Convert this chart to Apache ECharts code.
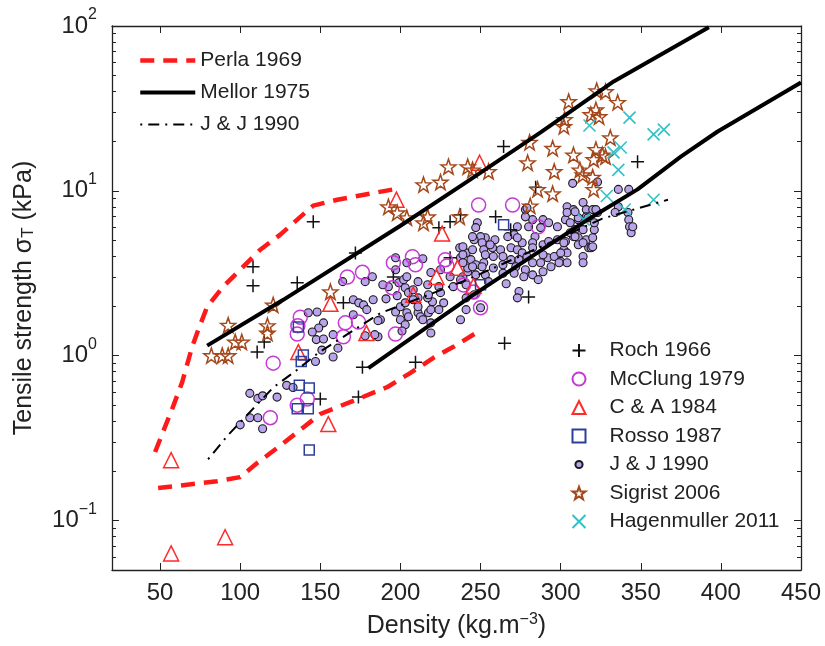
<!DOCTYPE html>
<html>
<head>
<meta charset="utf-8">
<script src="https://cdn.jsdelivr.net/npm/echarts@6/dist/echarts.min.js"></script>
<style>
  html, body { margin: 0; padding: 0; background: #fff; }
  #chart { width: 825px; height: 646px; }
</style>
</head>
<body>
<div id="chart"></div>
<script>
// ticks
var xTicks = [50, 100, 150, 200, 250, 300, 350, 400, 450];
var yMajor = [0.1, 1, 10, 100];
var yMinor = [0.06, 0.07, 0.08, 0.09, 0.2, 0.3, 0.4, 0.5, 0.6, 0.7, 0.8, 0.9,
  2, 3, 4, 5, 6, 7, 8, 9, 20, 30, 40, 50, 60, 70, 80, 90];

// model curves [density, strength]
var perlaUpper = [[46.9, 0.26], [53.1, 0.37], [58.1, 0.49], [63.8, 0.69], [70, 1.13], [73.8, 1.43],
  [79.4, 1.98], [89.4, 2.62], [112.5, 4.39], [125, 5.42], [135.6, 6.68], [145.6, 8.13], [160.6, 8.83], [195.6, 10.2]];
var perlaLower = [[48.8, 0.157], [85.6, 0.173], [100, 0.183], [110.6, 0.223], [123.1, 0.275], [137.5, 0.354],
  [150, 0.442], [175, 0.553], [191.9, 0.645], [206.3, 0.785], [220.6, 0.97], [233.1, 1.13], [248.1, 1.39]];
var mellorUpper = [[79.4, 1.15], [126.9, 2.18], [200, 6.14], [241.9, 11.4], [287.5, 22.6], [333.1, 46.1], [392.5, 98.2]];
var mellorLower = [[180, 0.84], [243.8, 2.28], [318.8, 6.87], [348, 10.2], [375, 16.1], [398, 22.9], [450, 45.4]];
var jjLine = [[80, 0.235], [92.5, 0.33], [107.5, 0.47], [120.6, 0.64], [135.6, 0.82], [148.8, 1.04], [159.4, 1.21],
  [187.5, 1.81], [212.5, 2.24], [241.9, 2.89], [285, 4.45], [326, 6.78], [367, 8.83]];

// measurements
var roch = [[108, 3.46], [108, 2.65], [135.6, 2.77], [145.6, 6.5], [171.9, 4.2], [164.4, 2.09], [195.6, 3.0],
  [115, 1.21], [110.6, 1.05], [150, 0.545], [176.3, 0.85], [209.4, 0.91], [173.8, 0.56], [224, 5.97], [231, 6.5],
  [237.5, 7.15], [231, 3.92], [264.4, 18.6], [284.4, 10.5], [348, 15], [259.4, 6.95], [268.8, 5.81], [280, 2.27], [265, 1.19]];
var mcclung = [[137.5, 1.71], [136, 1.52], [135.6, 1.35], [120.6, 0.9], [118.8, 0.42], [135.6, 0.5], [141.9, 0.545],
  [166.9, 3.0], [176.3, 3.2], [195.6, 3.66], [207.5, 3.98], [209.4, 3.56], [228, 3.82], [229, 3.5], [165.6, 1.58],
  [173.8, 1.6], [164.4, 1.3], [196.9, 1.35], [195, 2.58], [239.4, 2.68], [248.8, 8.2], [270, 8.2], [250, 1.95],
  [245.6, 2.43], [286, 6.05]];
var ca = [[56.9, 0.232], [56.9, 0.063], [90.6, 0.079], [155, 0.384], [136.3, 1.05], [178.8, 1.37], [156.3, 2.06],
  [197.5, 8.83], [226, 5.5], [235.6, 3.41], [222.5, 3.0], [208, 2.34], [249.4, 14.8], [245.6, 2.65]];
var rosso = [[136.3, 1.49], [139.4, 1.01], [138.1, 0.92], [136.9, 0.66], [143.1, 0.635], [135.6, 0.475],
  [142.5, 0.475], [143.1, 0.267], [264.4, 6.23], [250, 2.69]];
var jj = [[106, 0.59], [111, 0.55], [114, 0.57], [123, 0.56], [129, 0.66], [133, 0.64], [106, 0.42], [111, 0.42],
  [114, 0.36], [100, 0.38], [142.5, 1.82], [148, 1.84], [152, 1.58], [149, 1.47], [145, 1.39], [147.5, 1.25],
  [152, 1.26], [147, 0.92], [158, 0.98], [161, 1.11], [158, 1.34], [151, 1.08], [164, 2.81], [170.6, 2.18],
  [174, 2.09], [177, 2.03], [179, 1.9], [187.5, 1.65], [192.5, 2.62], [197, 3.92], [197, 3.32], [199, 2.77],
  [202, 2.89], [203, 2.58], [205, 2.41], [211, 1.82], [182.5, 3.01], [178, 2.81], [189, 2.69], [198, 2.31],
  [183, 2.18], [191, 2.21], [197, 1.84], [200, 1.98], [203, 2.09], [204, 1.82], [200, 1.65], [203, 1.54],
  [201, 1.41], [211, 1.98], [212.5, 1.72], [217.5, 1.82], [224, 1.9], [220, 2.12], [217, 2.24], [217, 2.69],
  [217.5, 2.34], [224, 2.62], [170.6, 1.77], [186, 1.63], [178, 1.32], [186, 1.3], [204, 3.66], [214, 3.87],
  [219, 3.19], [211, 2.81], [219, 1.58], [219, 1.37], [237, 4.51], [241, 4.2], [237.5, 3.92], [239, 3.01],
  [242, 3.23], [241, 2.69], [241, 2.24], [241, 1.9], [211, 2.24], [184, 1.34], [225, 3.32], [204, 3.01],
  [208, 2.51], [208, 2.18], [219, 1.9], [214, 1.65], [205, 1.72], [231, 3.01], [237.5, 2.89], [233, 2.62],
  [225, 2.41], [227, 2.09], [237.5, 1.65],
  [307.5, 11.1], [278, 7.69], [282.5, 6.68], [289, 6.68], [292.5, 6.4], [298, 6.05], [304, 8.0], [308, 7.69],
  [303, 6.68], [306, 6.4], [311, 6.68], [314, 8.5], [316, 7.69], [280, 6.05], [287.5, 5.98], [284, 5.27],
  [282.5, 4.84], [276, 4.84], [271, 5.42], [267, 5.27], [259, 5.05], [253, 5.19], [248, 6.4], [247, 5.98],
  [250, 5.27], [246, 5.05], [251, 4.84], [245, 4.39], [239, 4.58], [239, 4.09], [244, 3.82], [252, 4.39],
  [257.5, 4.51], [262.5, 4.39], [269, 4.51], [273, 4.39], [276, 4.2], [282.5, 4.51], [289, 4.71], [292.5, 4.92],
  [298, 5.05], [303, 4.92], [308, 5.27], [311, 5.19], [316, 5.05], [317.5, 4.51], [311, 4.71], [258, 3.99],
  [264, 3.99], [269, 3.82], [274, 3.82], [279, 3.99], [282.5, 3.66], [292, 3.92], [296, 3.99], [302, 4.39],
  [252, 3.66], [247, 3.56], [242, 3.4], [258, 3.4], [264, 3.56], [272, 3.46], [278, 3.32], [289, 3.23],
  [294, 3.46], [300, 3.73], [304, 3.66], [247, 3.09], [253, 3.09], [264, 3.16], [271, 3.16], [282.5, 3.09],
  [277, 3.01], [266, 2.73], [246, 2.34], [255, 2.81], [274, 2.45], [273, 2.24], [286, 2.89], [314, 5.81],
  [273, 6.05], [273, 5.19], [250, 1.95],
  [323, 11.3], [336, 10.2], [342.5, 10.2], [342, 7.38], [342.5, 6.68], [343, 6.05], [344, 5.57], [336, 8.0],
  [320, 7.69], [323, 7.38], [316, 6.95], [321, 5.81], [320, 5.19], [319, 4.51], [314, 3.99], [314, 3.66],
  [304, 7.38], [311, 6.85], [309, 5.81], [306, 5.57], [302, 4.84], [304, 4.2], [300, 4.2], [299, 3.66],
  [289, 4.09], [287.5, 3.66], [278, 6.95], [279, 7.86], [256, 4.71], [253, 4.09], [251, 3.46], [245, 5.27],
  [239, 3.66], [245, 3.46], [309, 7.46], [322, 7.69], [317, 6.85], [321, 6.4], [309, 5.27], [314, 4.84],
  [320, 4.58], [334, 7.38], [345, 6.05]];
var sigrist = [[82, 1.0], [88.8, 1.0], [92.5, 1.0], [96.9, 1.21], [101, 1.21], [92.5, 1.53], [117, 1.52],
  [117, 1.37], [120.6, 2.03], [156.3, 2.44], [192.5, 8.0], [198, 7.35], [204, 6.87], [214.4, 6.4], [217, 6.95],
  [237, 6.95], [214.4, 10.9], [225, 11.3], [230, 14.0], [242, 14.0], [245, 13.4], [255, 13.1], [279.4, 14.8],
  [280.6, 19.7], [285.6, 10.2], [281, 8.1], [295, 18.1], [296, 13.1], [295, 9.6], [305, 34.8], [302.5, 27.1],
  [302, 24.6], [308, 16.5], [312, 13.4], [313.8, 12.5], [320, 12.1], [320.6, 10.2], [322.5, 40.5], [328, 40],
  [335.6, 34.4], [322, 31], [318.8, 29], [331, 21], [322, 17.8], [326, 16.5], [320.6, 15.5], [328, 16.1], [324, 28.2]];
var hagen = [[318, 24.9], [343, 27.8], [358, 22], [364.4, 23.5], [337.5, 18.3], [333, 17.1], [336, 13.4],
  [328.8, 9.3], [358, 8.83], [340, 7.7], [314.4, 6.68]];

var FONT = 'Liberation Sans';
var INK = '#222';
var PLUS = 'path://M0,5L10,5M5,0L5,10';
var CROSS = 'path://M0,0L10,10M10,0L0,10';
var STAR = 'path://M10,0L12.35,6.76L19.51,6.91L13.8,11.24L15.88,18.09L10,14L4.12,18.09L6.2,11.24L0.49,6.91L7.65,6.76Z';
// small dot inside an empty 20x20 box, so the legend shows it smaller
var DOT = 'path://M0,0M20,20M15.5,10A5.5,5.5,0,1,1,4.5,10A5.5,5.5,0,1,1,15.5,10Z';

function scatter(name, data, symbol, size, stroke, fill, lw) {
  return {
    type: 'scatter', name: name, data: data, symbol: symbol, symbolSize: size,
    itemStyle: { color: fill || 'none', borderColor: stroke, borderWidth: lw || 1.5, opacity: 1 },
    emphasis: { disabled: true }, z: 2
  };
}
function curve(name, data, color, width, type) {
  return {
    type: 'line', name: name, data: data, symbol: 'none', smooth: false,
    lineStyle: { color: color, width: width, type: type, cap: 'butt' },
    itemStyle: { color: color },
    emphasis: { disabled: true }, z: 3
  };
}

function yLabel(v) {
  var e = Math.round(Math.log10(v));
  return '10{sup|' + (e < 0 ? '\u2212' + (-e) : e) + '}';
}

var axisLine = { show: true, lineStyle: { color: INK, width: 1.3 } };
var tickMajor = { show: true, inside: true, length: 7, lineStyle: { color: INK, width: 1 } };
var tickMinor = { show: true, inside: true, length: 4, lineStyle: { color: INK, width: 1 } };

var chart = echarts.init(document.getElementById('chart'), null, { renderer: 'canvas' });
chart.setOption({
  animation: false,
  backgroundColor: '#fff',
  textStyle: { fontFamily: FONT, color: INK },
  grid: { left: 112, top: 26, right: 24, bottom: 76, containLabel: false },
  legend: [{
    orient: 'vertical', left: 138, top: 50, padding: 0, itemWidth: 55, itemHeight: 14, itemGap: 11,
    itemStyle: { opacity: 0 },
    lineStyle: { width: 'inherit', type: 'inherit' },
    textStyle: { fontFamily: FONT, fontSize: 21, color: INK },
    data: ['Perla 1969', 'Mellor 1975', 'J & J 1990 '], selectedMode: false
  }, {
    orient: 'vertical', left: 570, top: 340, padding: 0, itemWidth: 13, itemHeight: 13, itemGap: 7.5,
    textStyle: { fontFamily: FONT, fontSize: 21, color: INK, padding: [0, 0, 0, 19] },
    data: ['Roch 1966', 'McClung 1979', 'C & A 1984', 'Rosso 1987', { name: 'J & J 1990', icon: DOT },
      'Sigrist 2006', 'Hagenmuller 2011'],
    selectedMode: false
  }],
  xAxis: [{
    type: 'value', position: 'bottom', min: 20, max: 450,
    name: 'Density (kg.m{sup|\u22123})', nameLocation: 'middle', nameGap: 42,
    nameTextStyle: { fontFamily: FONT, fontSize: 25, color: INK,
      rich: { sup: { fontFamily: FONT, fontSize: 16, color: INK, verticalAlign: 'top', padding: [0, 0, 12, 0] } } },
    axisLine: axisLine, splitLine: { show: false },
    axisTick: Object.assign({ customValues: xTicks }, tickMajor),
    axisLabel: { customValues: xTicks, fontFamily: FONT, fontSize: 24, color: INK, margin: 11 }
  }, {
    type: 'value', position: 'top', min: 20, max: 450,
    axisLine: axisLine, splitLine: { show: false },
    axisTick: Object.assign({ customValues: xTicks }, tickMajor),
    axisLabel: { show: false }
  }],
  yAxis: [{
    type: 'log', logBase: 10, position: 'left', min: 0.05, max: 100,
    name: 'Tensile strength \u03c3{sub|T} (kPa)', nameLocation: 'middle', nameGap: 75, nameRotate: 90,
    nameTextStyle: { fontFamily: FONT, fontSize: 25, color: INK,
      rich: { sub: { fontFamily: FONT, fontSize: 17, color: INK, verticalAlign: 'bottom', padding: [9, 0, 0, 0] } } },
    axisLine: axisLine, splitLine: { show: false },
    axisTick: Object.assign({ customValues: yMajor }, tickMajor),
    axisLabel: { customValues: yMajor, formatter: yLabel, fontFamily: FONT, fontSize: 24, color: INK, margin: 15,
      rich: { sup: { fontFamily: FONT, fontSize: 16, color: INK, verticalAlign: 'top', padding: [0, 0, 22, 0] } } }
  }, {
    type: 'log', logBase: 10, position: 'right', min: 0.05, max: 100,
    axisLine: axisLine, splitLine: { show: false },
    axisTick: Object.assign({ customValues: yMajor }, tickMajor),
    axisLabel: { show: false }
  }, {
    type: 'log', logBase: 10, position: 'left', min: 0.05, max: 100,
    axisLine: { show: false }, splitLine: { show: false },
    axisTick: Object.assign({ customValues: yMinor }, tickMinor),
    axisLabel: { show: false }
  }, {
    type: 'log', logBase: 10, position: 'right', min: 0.05, max: 100,
    axisLine: { show: false }, splitLine: { show: false },
    axisTick: Object.assign({ customValues: yMinor }, tickMinor),
    axisLabel: { show: false }
  }],
  series: [
    scatter('J & J 1990', jj, 'circle', 8, '#1a1a1a', '#b9a3ea', 1.1),
    scatter('Roch 1966', roch, PLUS, 13, '#111', null, 1.5),
    scatter('McClung 1979', mcclung, 'circle', 14, '#c43ad4', null, 1.5),
    scatter('C & A 1984', ca, 'triangle', 15, '#ff2a2a', null, 1.5),
    scatter('Rosso 1987', rosso, 'rect', 10, '#2c3f9c', null, 1.5),
    scatter('Sigrist 2006', sigrist, STAR, 15, '#a4471b', null, 1.5),
    scatter('Hagenmuller 2011', hagen, CROSS, 12, '#2ec2c6', null, 1.6),
    curve('Perla 1969', perlaUpper, '#ff1a1a', 4.5, [14, 9]),
    curve('Perla 1969', perlaLower, '#ff1a1a', 4.5, [14, 9]),
    curve('Mellor 1975', mellorUpper, '#000', 4, 'solid'),
    curve('Mellor 1975', mellorLower, '#000', 4, 'solid'),
    curve('J & J 1990 ', jjLine, '#000', 2, [2, 6, 11, 6])
  ]
});
</script>
</body>
</html>
